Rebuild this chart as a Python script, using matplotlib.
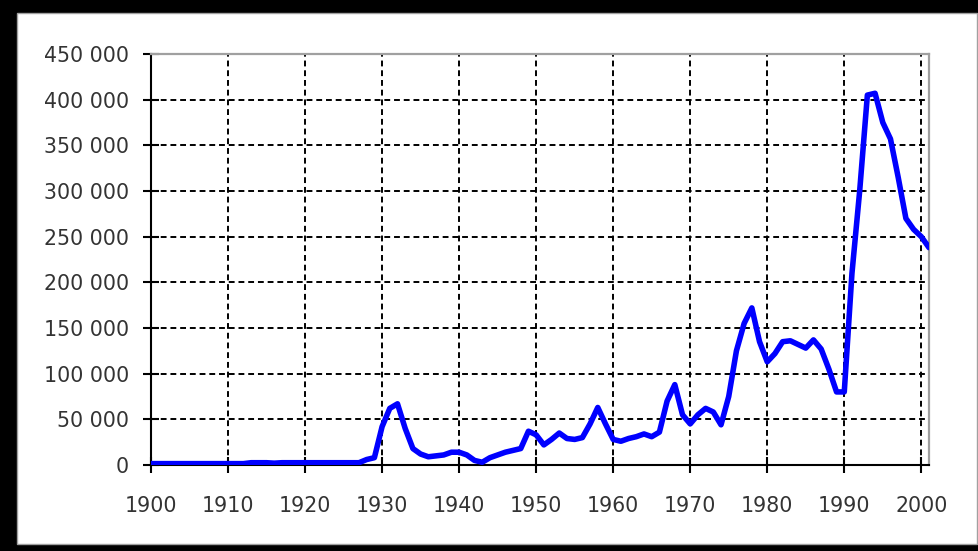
import matplotlib
matplotlib.use("Agg")
import matplotlib.pyplot as plt
from matplotlib.patches import Rectangle
from matplotlib.ticker import FuncFormatter

years = list(range(1900, 2002))
values = [
    # 1900-1909
    1500, 1500, 1500, 1500, 1500, 1500, 1500, 1500, 1500, 1500,
    # 1910-1919
    1500, 1500, 1500, 2500, 2500, 2500, 2000, 2500, 2500, 2500,
    # 1920-1929
    2500, 2500, 2500, 2500, 2500, 2500, 2500, 2500, 6000, 8000,
    # 1930-1939
    42000, 62000, 67000, 40000, 18000, 12000, 9000, 10000, 11000, 14000,
    # 1940-1949
    14000, 11000, 5000, 3000, 8000, 11000, 14000, 16000, 18000, 37000,
    # 1950-1959
    33000, 22000, 28000, 35000, 29000, 28000, 30000, 45000, 63000, 45000,
    # 1960-1969
    28000, 26000, 29000, 31000, 34000, 31000, 36000, 70000, 88000, 55000,
    # 1970-1979
    45000, 55000, 62000, 58000, 44000, 75000, 125000, 155000, 172000, 135000,
    # 1980-1989
    113000, 122000, 135000, 136000, 132000, 128000, 137000, 127000, 105000, 80000,
    # 1990-1999
    80000, 210000, 300000, 405000, 407000, 375000, 357000, 315000, 270000, 258000,
    # 2000-2001
    250000, 238000,
]
x_ticks = [1900, 1910, 1920, 1930, 1940, 1950, 1960, 1970, 1980, 1990, 2000]
y_ticks = [0, 50000, 100000, 150000, 200000, 250000, 300000, 350000, 400000, 450000]

W, H = 979, 551
fig = plt.figure(figsize=(W / 100, H / 100), dpi=100, facecolor="black")

# white inner panel with thin gray edge
panel = Rectangle((17 / W, (H - 544) / H), (977 - 17) / W, (544 - 13) / H,
                  transform=fig.transFigure, facecolor="white",
                  edgecolor="#a0a0a0", linewidth=1.0, zorder=-10)
fig.patches.append(panel)

ax = fig.add_axes([151 / W, (H - 465) / H, (929 - 151) / W, (465 - 54) / H])
ax.set_zorder(5)
ax.set_facecolor("white")

ax.plot(years, values, color="#0000ff", linewidth=4.0, solid_joinstyle="round",
        solid_capstyle="round", zorder=3, clip_on=True)

ax.set_xlim(1900, 2001)
ax.set_ylim(0, 450000)
ax.set_xticks(x_ticks)
ax.set_yticks(y_ticks)
ax.yaxis.set_major_formatter(FuncFormatter(lambda v, p: f"{int(v):,}".replace(",", " ")))

ax.grid(True, color="black", linestyle=(0, (3, 2)), linewidth=1.4, zorder=1)

for s in ["left", "bottom"]:
    ax.spines[s].set_color("black")
    ax.spines[s].set_linewidth(1.5)
for s in ["top", "right"]:
    ax.spines[s].set_color("#a0a0a0")
    ax.spines[s].set_linewidth(1.6)

ax.tick_params(axis="both", direction="inout", length=12, width=1.5, color="black",
               labelsize=14.8, labelcolor="#333333")
ax.tick_params(axis="y", pad=10)
ax.tick_params(axis="x", pad=16)
for lab in ax.get_xticklabels() + ax.get_yticklabels():
    lab.set_family("DejaVu Sans")

fig.savefig("out.png", dpi=100, facecolor=fig.get_facecolor())
